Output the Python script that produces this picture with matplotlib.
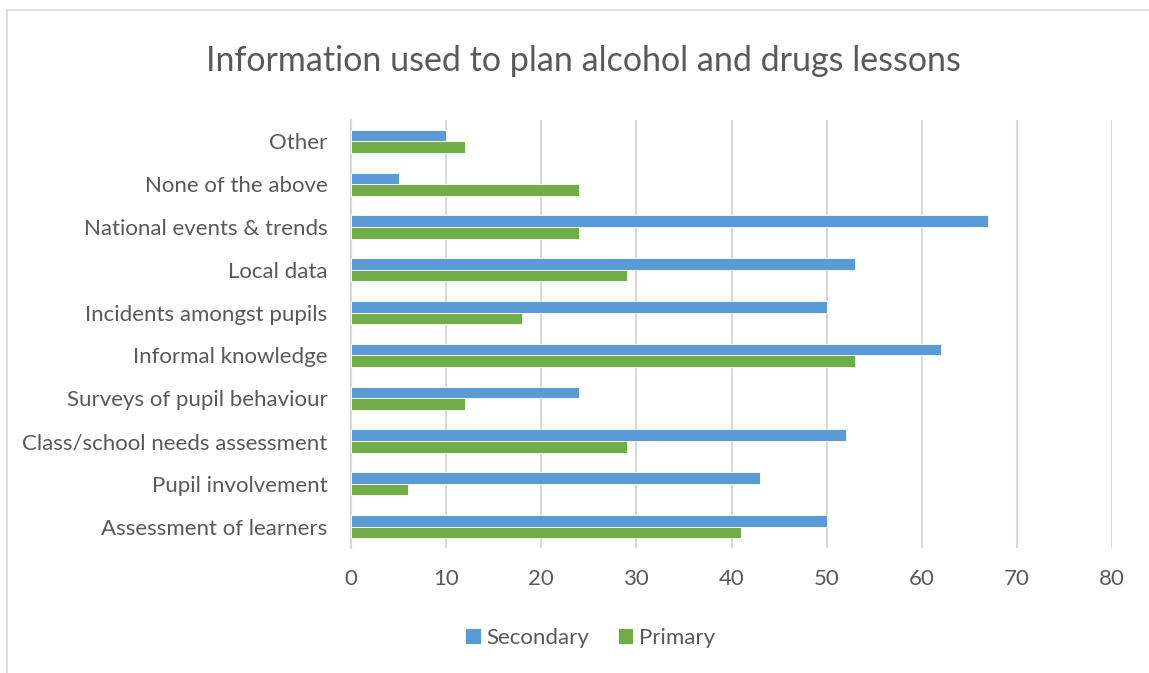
import matplotlib.pyplot as plt
import matplotlib.patches as mpatches
import numpy as np

categories = ["Assessment of learners", "Pupil involvement", "Class/school needs assessment",
              "Surveys of pupil behaviour", "Informal knowledge", "Incidents amongst pupils",
              "Local data", "National events & trends", "None of the above", "Other"]
secondary = [50, 43, 52, 24, 62, 50, 53, 67, 5, 10]
primary = [41, 6, 29, 12, 53, 18, 29, 24, 24, 12]
x_ticks = [0, 10, 20, 30, 40, 50, 60, 70, 80]

blue = "#5B9BD5"
green = "#70AD47"
grey_text = "#595959"

plt.rcParams['font.family'] = ['Lato', 'DejaVu Sans']

fig = plt.figure(figsize=(11.49, 6.73), dpi=100)
ax = fig.add_axes([351 / 1149, 1 - 548 / 673, (1112 - 351) / 1149, (548 - 120) / 673])

# outer chart frame
fig.patches.append(mpatches.Rectangle((7 / 1149, -0.1), 1.2, 1 - 10 / 673 + 0.1,
                                      transform=fig.transFigure, fill=False,
                                      edgecolor="#D9D9D9", linewidth=1.2))

y = np.arange(len(categories))
h = 0.27
ax.barh(y + h / 2, secondary, height=h, color=blue, edgecolor="white", linewidth=0.6,
        label="Secondary", zorder=3)
ax.barh(y - h / 2, primary, height=h, color=green, edgecolor="white", linewidth=0.6,
        label="Primary", zorder=3)

ax.set_xlim(0, 80)
ax.set_ylim(-0.5, len(categories) - 0.5)
ax.set_xticks(x_ticks)
ax.set_yticks(y)
ax.set_yticklabels(categories)
ax.tick_params(axis="both", length=0, labelsize=16, colors=grey_text)
ax.tick_params(axis="x", pad=15)
ax.tick_params(axis="y", pad=17)
ax.grid(axis="x", color="#D9D9D9", linewidth=1.5, zorder=0)
for s in ["top", "right", "bottom"]:
    ax.spines[s].set_visible(False)
ax.spines["left"].set_color("#D9D9D9")
ax.spines["left"].set_linewidth(1.5)

fig.text(583 / 1149, 1 - 61 / 673, "Information used to plan alcohol and drugs lessons",
         ha="center", va="center", fontsize=24.5, color=grey_text)

ax.legend(loc="center", bbox_to_anchor=(590 / 1149, 1 - 638 / 673),
          bbox_transform=fig.transFigure, ncol=2, frameon=False, fontsize=16,
          labelcolor=grey_text, handlelength=0.7, handleheight=0.7,
          handletextpad=0.25, columnspacing=1.3)

fig.savefig("out.png", dpi=100)
